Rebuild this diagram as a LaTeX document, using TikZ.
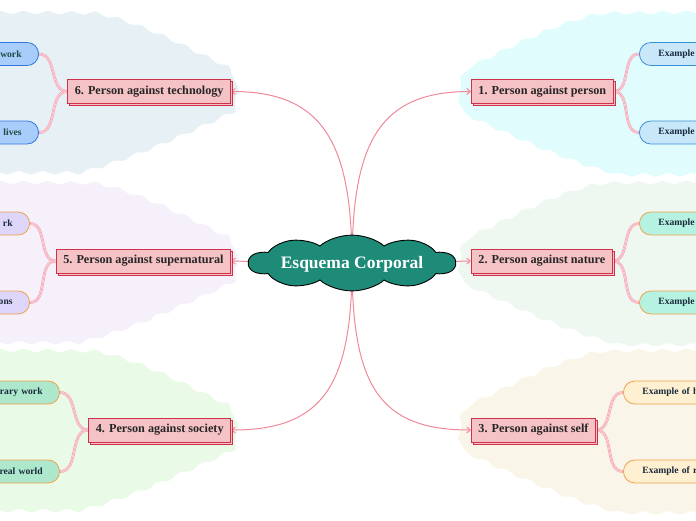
\documentclass[tikz,border=0pt]{standalone}
\usepackage{fontspec}
\setmainfont{Liberation Serif}
\usetikzlibrary{shapes.symbols,shadows,arrows.meta,decorations.pathmorphing}
\definecolor{regA}{HTML}{E0FCFC}
\definecolor{regB}{HTML}{EEF8F1}
\definecolor{regC}{HTML}{F9F5E8}
\definecolor{regD}{HTML}{E7F0F5}
\definecolor{regE}{HTML}{F6F0FB}
\definecolor{regF}{HTML}{E9FBE6}
\definecolor{boxfill}{HTML}{F5C2C5}
\definecolor{boxline}{HTML}{D0314A}
\definecolor{connc}{HTML}{F08898}
\definecolor{ribc}{HTML}{F4A0B0}
\definecolor{ribin}{HTML}{FDE0E6}
\definecolor{cloudc}{HTML}{1E8A78}
\definecolor{bluefill}{HTML}{C8E8FA}
\definecolor{blueline}{HTML}{3B8FD8}
\definecolor{bluefillb}{HTML}{A8CDFB}
\definecolor{bluelineb}{HTML}{2F78E0}
\definecolor{mintfill}{HTML}{B6F2E2}
\definecolor{creamfill}{HTML}{FFF0D2}
\definecolor{lavfill}{HTML}{DED6FA}
\definecolor{greenfill}{HTML}{ADE8CC}
\definecolor{orangeline}{HTML}{F0A24A}
\definecolor{leaftext}{HTML}{1A2A3A}
\definecolor{leaftextb}{HTML}{1F4A44}
\pgfdeclarelayer{bg}
\pgfdeclarelayer{lines}
\pgfsetlayers{bg,lines,main}
\newcommand\regionpath{(730,12) -- (612,13) .. controls (560,22) and (505,55) .. (470,70) .. controls (463,80) and (463,104) .. (470,114) .. controls (520,137) and (580,165) .. (628,175) -- (730,175) -- cycle}
\begin{document}
\begin{tikzpicture}[x=1pt,y=-1pt,
  region/.style={decorate,decoration={snake,amplitude=1.6pt,segment length=24pt}},
  branch/.style={draw=boxline,fill=boxfill,line width=0.8pt,
    copy shadow={shadow xshift=2pt,shadow yshift=-2pt},
    font=\bfseries\fontsize{12.2}{14}\selectfont,text=black!85,
    minimum height=24pt,inner xsep=7pt,inner ysep=0pt},
  leaf/.style={rounded corners=11.5pt,minimum height=23pt,line width=0.8pt,
    font=\bfseries\fontsize{9.6}{11}\selectfont,text=leaftext,
    text width=140pt,inner ysep=0pt},
  rleaf/.style={leaf,anchor=west,align=left,inner xsep=19pt},
  lleaf/.style={leaf,anchor=east,align=right,inner xsep=17pt},
  conn/.style={draw=connc,line width=1pt,-{Straight Barb[length=3.5pt,width=6pt]}},
  ribbon/.style={draw=ribc,line width=0.6pt,double=ribin,double distance=1.6pt,
    postaction={draw=ribc,line width=0.45pt}}]
\useasboundingbox (0,0) rectangle (696,520);
\clip (0,0) rectangle (696,520);

% background regions
\begin{pgfonlayer}{bg}
  \fill[regA,region] \regionpath;
  \begin{scope}[shift={(0,170)}] \fill[regB,region] \regionpath; \end{scope}
  \begin{scope}[shift={(0,338)}] \fill[regC,region] \regionpath; \end{scope}
  \begin{scope}[shift={(698,0)},xscale=-1] \fill[regD,region] \regionpath; \end{scope}
  \begin{scope}[shift={(698,170)},xscale=-1] \fill[regE,region] \regionpath; \end{scope}
  \begin{scope}[shift={(698,338)},xscale=-1] \fill[regF,region] \regionpath; \end{scope}
\end{pgfonlayer}

% central cloud
\begin{scope}[shift={(352,263)},yscale=0.62]
  \node[cloud,cloud puffs=10,cloud puff arc=115,draw=black,line width=0.9pt,
    fill=cloudc,minimum width=207pt,minimum height=90pt,inner sep=0pt,transform shape]
    (cl) at (0,0) {};
\end{scope}
\node[text=white,font=\bfseries\fontsize{17.5}{20}\selectfont] (c) at (352,264) {Esquema Corporal};

% branch boxes
\node[branch,anchor=west] (b1) at (471,91.5) {1. Person against person};
\node[branch,anchor=west] (b2) at (471,261) {2. Person against nature};
\node[branch,anchor=west] (b3) at (471,430) {3. Person against self};
\node[branch,anchor=east] (b6) at (231,91.5) {6. Person against technology};
\node[branch,anchor=east] (b5) at (231,261) {5. Person against supernatural};
\node[branch,anchor=east] (b4) at (231,430) {4. Person against society};

% leaves
\node[rleaf,fill=bluefill,draw=blueline] (l1a) at (639,54) {Example};
\node[rleaf,fill=bluefill,draw=blueline] (l1b) at (639,132.5) {Example};
\node[rleaf,fill=mintfill,draw=orangeline] (l2a) at (639,223.5) {Example};
\node[rleaf,fill=mintfill,draw=orangeline] (l2b) at (639,302.5) {Example};
\node[rleaf,fill=creamfill,draw=orangeline] (l3a) at (623,392.5) {Example of h};
\node[rleaf,fill=creamfill,draw=orangeline] (l3b) at (623,471.5) {Example of r};
\node[lleaf,fill=bluefillb,draw=bluelineb,text=leaftextb] (l6a) at (39,54) {work};
\node[lleaf,fill=bluefillb,draw=bluelineb,text=leaftextb] (l6b) at (39,132.5) {lives};
\node[lleaf,fill=lavfill,draw=orangeline] (l5a) at (30,223.5) {rk};
\node[lleaf,fill=lavfill,draw=orangeline] (l5b) at (30,302.5) {ons};
\node[lleaf,fill=greenfill,draw=orangeline] (l4a) at (60,392.5) {rary work};
\node[lleaf,fill=greenfill,draw=orangeline] (l4b) at (60,471.5) {real world};

% connectors
\begin{pgfonlayer}{lines}
  \draw[conn] (c.center) .. controls +(0,-123) and +(-91,0) .. (b1.west);
  \draw[conn] (c.center) -- (b2.west);
  \draw[conn] (c.center) .. controls +(0,123) and +(-91,0) .. (b3.west);
  \draw[conn] (c.center) .. controls +(0,-123) and +(91,0) .. (b6.east);
  \draw[conn] (c.center) -- (b5.east);
  \draw[conn] (c.center) .. controls +(0,123) and +(91,0) .. (b4.east);
  \draw[ribbon] (b1.east) to[out=0,in=180] (l1a.west);
  \draw[ribbon] (b1.east) to[out=0,in=180] (l1b.west);
  \draw[ribbon] (b2.east) to[out=0,in=180] (l2a.west);
  \draw[ribbon] (b2.east) to[out=0,in=180] (l2b.west);
  \draw[ribbon] (b3.east) to[out=0,in=180] (l3a.west);
  \draw[ribbon] (b3.east) to[out=0,in=180] (l3b.west);
  \draw[ribbon] (b6.west) to[out=180,in=0] (l6a.east);
  \draw[ribbon] (b6.west) to[out=180,in=0] (l6b.east);
  \draw[ribbon] (b5.west) to[out=180,in=0] (l5a.east);
  \draw[ribbon] (b5.west) to[out=180,in=0] (l5b.east);
  \draw[ribbon] (b4.west) to[out=180,in=0] (l4a.east);
  \draw[ribbon] (b4.west) to[out=180,in=0] (l4b.east);
\end{pgfonlayer}
\end{tikzpicture}
\end{document}
